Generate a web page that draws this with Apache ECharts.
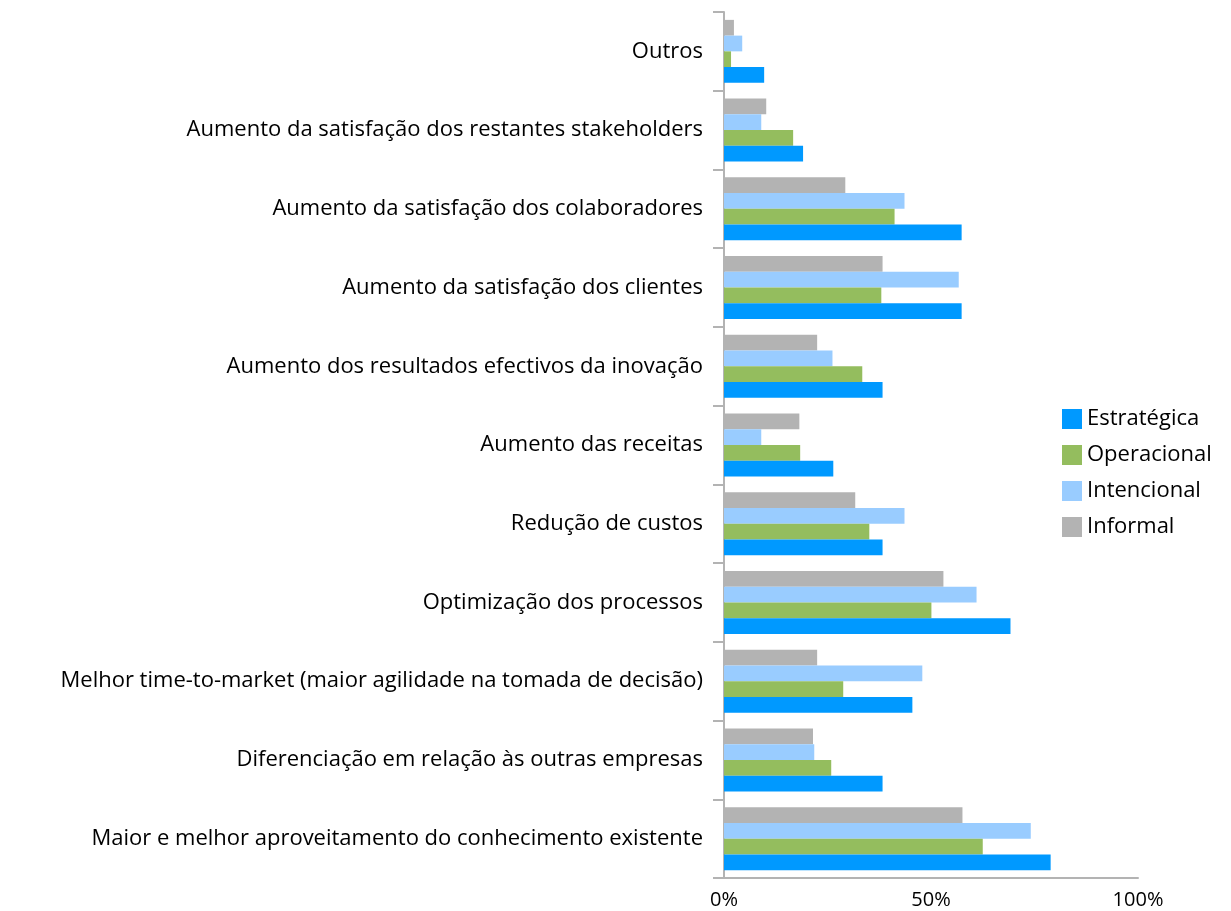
<!DOCTYPE html>
<html>
<head>
<meta charset="utf-8">
<script src="https://cdn.jsdelivr.net/npm/echarts@6/dist/echarts.min.js"></script>
<style>
  html, body { margin: 0; padding: 0; background: #fff; }
  #chart { width: 1231px; height: 911px; }
</style>
</head>
<body>
<div id="chart"></div>
<script>
// Categories, listed bottom to top along the vertical axis
const categories = [
  'Maior e melhor aproveitamento do conhecimento existente',
  'Diferenciação em relação às outras empresas',
  'Melhor time-to-market (maior agilidade na tomada de decisão)',
  'Optimização dos processos',
  'Redução de custos',
  'Aumento das receitas',
  'Aumento dos resultados efectivos da inovação',
  'Aumento da satisfação dos clientes',
  'Aumento da satisfação dos colaboradores',
  'Aumento da satisfação dos restantes stakeholders',
  'Outros'
];

// Percentages per category (same order as categories)
const estrategica = [78.9, 38.3, 45.5, 69.2, 38.3, 26.4, 38.3, 57.4, 57.4, 19.1, 9.7];
const operacional = [62.5, 25.9, 28.8, 50.1, 35.1, 18.4, 33.4, 38.0, 41.2, 16.7, 1.7];
const intencional = [74.1, 21.8, 47.9, 61.0, 43.6, 9.0, 26.2, 56.7, 43.6, 9.0, 4.4];
const informal    = [57.6, 21.5, 22.5, 53.0, 31.7, 18.2, 22.5, 38.3, 29.3, 10.2, 2.4];

const seriesNames = ['Estratégica', 'Operacional', 'Intencional', 'Informal'];
const xTicks = [0, 50, 100];

const colors = {
  'Estratégica': '#0099FF',
  'Operacional': '#94BD5E',
  'Intencional': '#99CCFF',
  'Informal': '#B3B3B3'
};

const FONT = 'Open Sans';

const chart = echarts.init(document.getElementById('chart'), null, { renderer: 'canvas' });

// Within each group the first series sits at the top, so draw Informal first
const drawOrder = [
  ['Informal', informal],
  ['Intencional', intencional],
  ['Operacional', operacional],
  ['Estratégica', estrategica]
];

chart.setOption({
  animation: false,
  backgroundColor: '#ffffff',
  textStyle: { fontFamily: FONT },
  grid: { left: 724, right: 93, top: 12, bottom: 33, containLabel: false },
  legend: {
    data: seriesNames,
    orient: 'vertical',
    left: 1057,
    top: 403,
    itemWidth: 20,
    itemHeight: 20,
    itemGap: 14,
    icon: 'rect',
    textStyle: { fontFamily: FONT, fontSize: 22, color: '#000' }
  },
  xAxis: {
    type: 'value',
    min: xTicks[0],
    max: xTicks[xTicks.length - 1],
    interval: 50,
    splitLine: { show: false },
    axisTick: { show: false },
    axisLine: { show: true, lineStyle: { color: '#B3B3B3', width: 2 } },
    axisLabel: {
      formatter: '{value}%',
      fontFamily: FONT,
      fontSize: 20,
      color: '#000',
      margin: 12
    }
  },
  yAxis: {
    type: 'category',
    data: categories,
    axisLine: { show: true, lineStyle: { color: '#B3B3B3', width: 2 } },
    axisTick: { show: true, length: 11, lineStyle: { color: '#B3B3B3', width: 2 } },
    axisLabel: {
      fontFamily: FONT,
      fontSize: 22,
      color: '#000',
      margin: 21
    },
    splitLine: { show: false }
  },
  series: drawOrder.map(([name, values]) => ({
    name: name,
    type: 'bar',
    data: values,
    barGap: '0%',
    barCategoryGap: '20%',
    itemStyle: { color: colors[name] }
  }))
});
</script>
</body>
</html>
